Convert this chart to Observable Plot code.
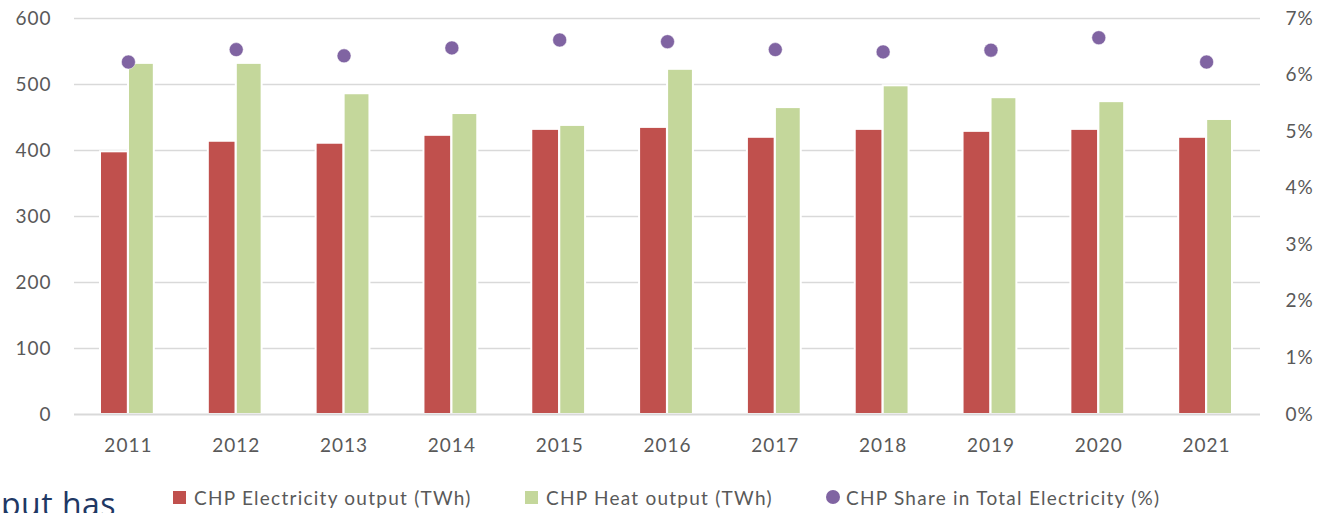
<!DOCTYPE html>
<html><head><meta charset="utf-8">
<script src="https://cdn.jsdelivr.net/npm/d3@7"></script>
<script src="https://cdn.jsdelivr.net/npm/@observablehq/plot@0.6"></script>
<style>
body{margin:0;width:1322px;height:513px;overflow:hidden;position:relative;background:#fff;font-family:Lato,"Open Sans",sans-serif;color:#595959;}
.lg{position:absolute;top:485px;height:24px;display:flex;align-items:center;font-size:19px;letter-spacing:1.25px;white-space:nowrap;}
.sw{display:inline-block;width:13px;height:13px;margin-right:8px;}
#frag{position:absolute;left:1px;top:482px;font-size:32px;color:#1F3864;font-family:"Open Sans",sans-serif;white-space:nowrap;letter-spacing:0.5px;}
</style></head><body>
<div id="chart"></div>
<div id="legend"></div>
<div id="frag">put has</div>
<script>
const years = ["2011","2012","2013","2014","2015","2016","2017","2018","2019","2020","2021"];
const elec = [398, 414, 411, 423, 432, 435, 420, 432, 429, 432, 420];
const heat = [532, 532, 486, 456, 438, 523, 465, 498, 480, 474, 447];
const share = [6.23, 6.45, 6.34, 6.48, 6.62, 6.59, 6.45, 6.41, 6.44, 6.66, 6.23];
const seriesNames = ["CHP Electricity output (TWh)", "CHP Heat output (TWh)", "CHP Share in Total Electricity (%)"];
const colors = ["#C0504D", "#C4D79B", "#8064A2"];
const leftTicks = [0, 100, 200, 300, 400, 500, 600];
const rightTicks = [0, 1, 2, 3, 4, 5, 6, 7];

const rows = years.map((y, i) => ({year: y, elec: elec[i], heat: heat[i], share: share[i]}));
const k = 600 / 7;

const chart = Plot.plot({
  width: 1322,
  height: 460,
  marginLeft: 74,
  marginRight: 62,
  marginTop: 18,
  marginBottom: 46,
  style: {fontSize: "19px", fontFamily: "Lato, 'Open Sans', sans-serif", color: "#595959", background: "white", letterSpacing: "1px"},
  x: {type: "band", domain: years, padding: 0, round: false},
  y: {domain: [0, 600]},
  marks: [
    Plot.ruleY(leftTicks.slice(1), {stroke: "#d9d9d9", strokeWidth: 1.5}),
    Plot.barY(rows, {x: "year", y: "elec", fill: colors[0], insetLeft: 26, insetRight: 54, stroke: "white", strokeWidth: 2}),
    Plot.barY(rows, {x: "year", y: "heat", fill: colors[1], insetLeft: 54, insetRight: 28, stroke: "white", strokeWidth: 2}),
    Plot.ruleY([0], {stroke: "#d9d9d9", strokeWidth: 2}),
    Plot.dot(rows, {x: "year", y: d => d.share * k, r: 7, fill: colors[2], stroke: "white", strokeWidth: 0.5}),
    Plot.axisY(leftTicks, {anchor: "left", tickSize: 0, tickPadding: 23, label: null}),
    Plot.axisY(rightTicks.map(p => p * k), {anchor: "right", tickSize: 0, tickPadding: 25, label: null, tickFormat: v => Math.round(v / k) + "%"}),
    Plot.axisX({tickSize: 0, tickPadding: 24, label: null})
  ]
});
document.getElementById("chart").appendChild(chart);

const legend = document.getElementById("legend");
const lefts = [173, 525, 826];
seriesNames.forEach((name, i) => {
  const item = document.createElement("div");
  item.className = "lg";
  item.style.left = lefts[i] + "px";
  const sw = document.createElement("span");
  sw.className = "sw";
  sw.style.background = colors[i];
  if (i === 2) { sw.style.width = "14px"; sw.style.height = "14px"; sw.style.borderRadius = "50%"; sw.style.marginRight = "6px"; }
  item.appendChild(sw);
  item.appendChild(document.createTextNode(name));
  legend.appendChild(item);
});
</script></body></html>
